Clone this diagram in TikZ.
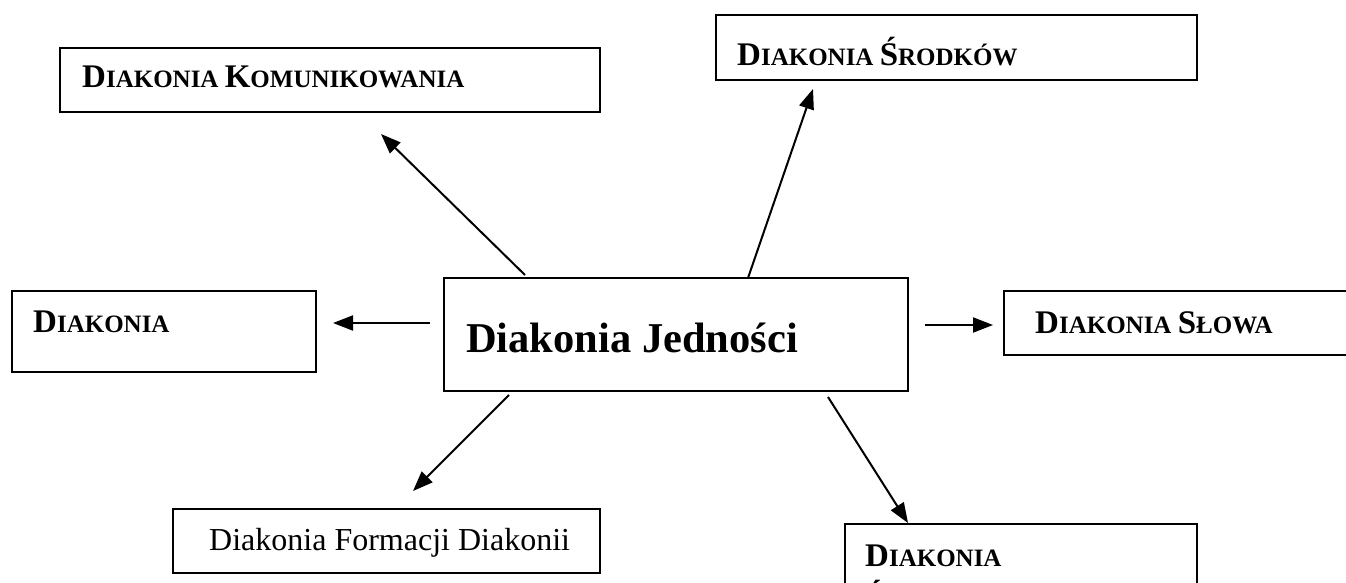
\documentclass[tikz,border=0pt]{standalone}
\usepackage{fontspec}
\setmainfont{Liberation Serif}
\usetikzlibrary{arrows.meta}
\usetikzlibrary{positioning}

% fake small caps: big first letter, smaller rest
\newcommand{\capsc}[2]{{\fontsize{33}{36}\selectfont #1}{\fontsize{25}{28}\selectfont #2}}

\begin{document}
\begin{tikzpicture}[x=1pt, y=-1pt,
    box/.style={draw, line width=1.8pt, inner sep=0pt},
    lbl/.style={anchor=base west, inner sep=0pt, font=\fontsize{25}{28}\selectfont\bfseries},
    arr/.style={-{Triangle[length=20pt,width=15pt]}, line width=2pt}]
    \useasboundingbox (0,0) rectangle (1346,583);
    \clip (0,0) rectangle (1346,583);

    % boxes
    \node[box, minimum width=540, minimum height=64](komb) at (330,80){};
    \node[box, minimum width=481, minimum height=65](srodb) at (956.5,47.5){};
    \node[box, minimum width=304, minimum height=81](diab) at (164,331.5){};
    \node[box, minimum width=464, minimum height=113](mainb) at (676,334.5){};
    \node[box, minimum width=396, minimum height=64](slowab) at (1202,323){};
    \node[box, minimum width=427, minimum height=64](formb) at (386.5,541){};
    \node[box, minimum width=352, minimum height=126](swiadb) at (1021,587){};

    % texts
    \node[lbl](kom) at (82,88){\capsc{D}{IAKONIA} \capsc{K}{OMUNIKOWANIA}};
    \node[lbl](srod) at (737,66){\capsc{D}{IAKONIA} \capsc{Ś}{RODKÓW}};
    \node[lbl](dia) at (33,332){\capsc{D}{IAKONIA}};
    \node[lbl, font=\fontsize{42.5}{46}\selectfont\bfseries](jed) at (466,352){Diakonia Jedności};
    \node[lbl](slowa) at (1035,333){\capsc{D}{IAKONIA} \capsc{S}{ŁOWA}};
    \node[lbl, font=\fontsize{32}{36}\selectfont](form) at (209,550){Diakonia Formacji Diakonii};
    \node[lbl](swiad) at (865,566){\capsc{D}{IAKONIA}};
    \node[lbl, below=42pt of swiad.base west, anchor=base west](swiad2){\capsc{Ś}{}};

    % arrow ends
    \coordinate (k1) at (525,275);
    \coordinate (k2) at (381,134);
    \coordinate (s1) at (748,278);
    \coordinate (s2) at (813,89);
    \coordinate (d1) at (430,323);
    \coordinate (d2) at (333,323);
    \coordinate (w1) at (925,325);
    \coordinate (w2) at (993,325);
    \coordinate (f1) at (509,395);
    \coordinate (f2) at (413,491);
    \coordinate (b1) at (828,397);
    \coordinate (b2) at (908,523);

    \draw[arr] (k1) -- (k2);
    \draw[arr] (s1) -- (s2);
    \draw[arr] (d1) -- (d2);
    \draw[arr] (w1) -- (w2);
    \draw[arr] (f1) -- (f2);
    \draw[arr] (b1) -- (b2);
\end{tikzpicture}
\end{document}
